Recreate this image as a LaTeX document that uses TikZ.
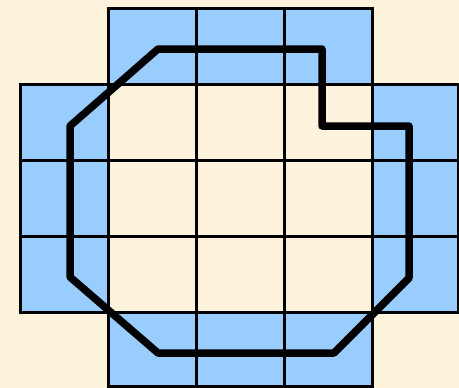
\documentclass[tikz,border=0pt]{standalone}
\definecolor{parch}{RGB}{253,242,220}
\definecolor{cellblue}{RGB}{153,204,255}
\begin{document}
\begin{tikzpicture}[x=1pt,y=-1pt,
  cell/.style={fill=cellblue,draw=black,line width=3pt},
  gridline/.style={draw=black,line width=3pt},
  outline/.style={draw=black,line width=7.5pt,line join=round}]
\fill[parch] (0,0) rectangle (459,388);
\useasboundingbox (0,0) rectangle (459,388);
% blue cells
\foreach \x in {108,196,284} {
  \draw[cell] (\x,8) rectangle ++(88,76);
  \draw[cell] (\x,312) rectangle ++(88,74);
}
\foreach \y in {84,160,236} {
  \draw[cell] (20,\y) rectangle ++(88,76);
  \draw[cell] (372,\y) rectangle ++(86,76);
}
% inner grid
\foreach \x in {108,196,284} {
  \foreach \y in {84,160,236} {
    \draw[gridline] (\x,\y) rectangle ++(88,76);
  }
}
% thick outline
\draw[outline] (158,49) -- (322,49) -- (322,126) -- (409,126) -- (409,278)
  -- (334,353) -- (158,353) -- (70,277) -- (70,126) -- cycle;
\end{tikzpicture}
\end{document}
